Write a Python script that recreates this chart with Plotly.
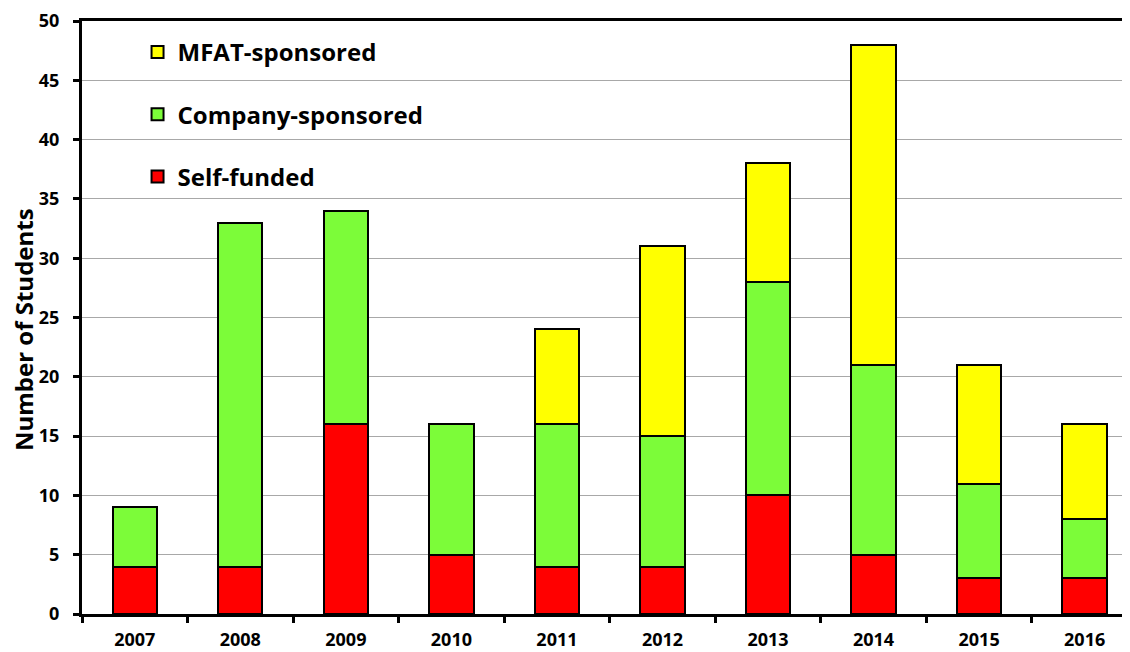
import plotly.graph_objects as go

years = ["2007", "2008", "2009", "2010", "2011", "2012", "2013", "2014", "2015", "2016"]
self_funded = [4, 4, 16, 5, 4, 4, 10, 5, 3, 3]
company_sponsored = [5, 29, 18, 11, 12, 11, 18, 16, 8, 5]
mfat_sponsored = [0, 0, 0, 0, 8, 16, 10, 27, 10, 8]

FONT = "Open Sans"
series = [
    ("Self-funded", self_funded, "#ff0000", 3),
    ("Company-sponsored", company_sponsored, "#7cfc39", 2),
    ("MFAT-sponsored", mfat_sponsored, "#ffff00", 1),
]

fig = go.Figure()
for i, (name, vals, col, rank) in enumerate(series):
    fig.add_trace(go.Bar(
        x=years, y=vals, name=name, width=0.42,
        marker=dict(color=col, line=dict(color="black", width=2)),
        legendgroup=f"g{i}", legendrank=rank,
    ))

fig.update_layout(
    barmode="stack",
    width=1122, height=644,
    margin=dict(l=74, r=0, t=13, b=38),
    paper_bgcolor="white", plot_bgcolor="white",
    font=dict(family=FONT, color="black", size=18),
    showlegend=True,
    legend=dict(
        x=0.053, y=0.985, xanchor="left", yanchor="top",
        traceorder="grouped", tracegroupgap=28,
        font=dict(family=FONT, size=24, color="black", weight="bold"),
        bgcolor="rgba(0,0,0,0)",
    ),
    xaxis=dict(
        range=[-0.5, 9.43],
        showline=True, linecolor="black", linewidth=2.5, mirror=True,
        ticks="outside", tickson="boundaries", ticklen=6, tickwidth=2.5, tickcolor="black",
        tickfont=dict(family=FONT, size=18, weight="bold"),
        ticklabelstandoff=8,
        showgrid=False,
    ),
    yaxis=dict(
        range=[0, 50], dtick=5,
        showline=True, linecolor="black", linewidth=3,
        ticks="outside", ticklen=6, tickwidth=2.5, tickcolor="black",
        tickfont=dict(family=FONT, size=18, weight="bold"),
        ticklabelstandoff=10,
        showgrid=True, gridcolor="#a8a8a8", gridwidth=1,
        zeroline=False,
        automargin=False,
    ),
    annotations=[dict(
        text="Number of Students", textangle=-90,
        xref="paper", yref="paper", x=-0.0563, y=0.4806,
        xanchor="center", yanchor="middle", showarrow=False,
        font=dict(family=FONT, size=24, weight="bold", color="black"),
    )],
)

fig.write_html("out.html")
